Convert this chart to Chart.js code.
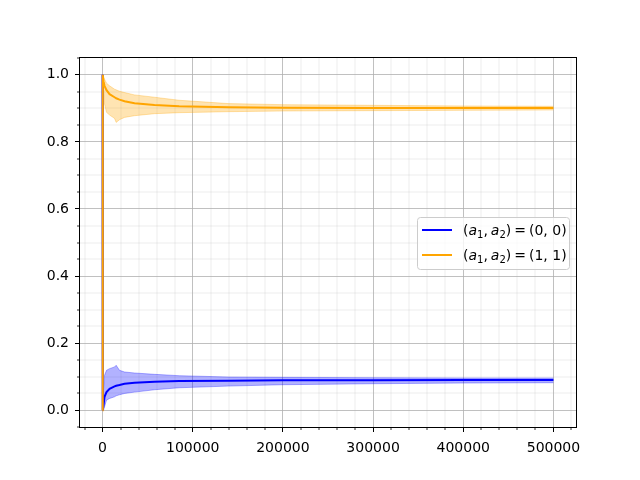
<!DOCTYPE html>
<html>
<head>
    <title>Convergence of action frequencies</title>
    <script src="https://cdn.jsdelivr.net/npm/chart.js@4"></script>
    <style>
        body { margin: 0; background: #fff; }
        #wrap { width: 640px; height: 480px; }
    </style>
</head>
<body>
<div id="wrap"><canvas id="chart" width="640" height="480"></canvas></div>
<script>
// iteration steps (denser near the start)
const steps  = [0, 200, 1100, 2200, 4400, 7800, 13300, 15100, 18800, 24400, 35500, 57600, 85000, 140000, 200000, 300000, 400000, 500000];

// (a1, a2) = (0, 0)
const meanA  = [1.0, 0.0, 0.015, 0.040, 0.054, 0.064, 0.071, 0.073, 0.075, 0.079, 0.082, 0.085, 0.087, 0.088, 0.089, 0.0895, 0.090, 0.090];
const upperA = [1.0, 0.0, 0.060, 0.104, 0.119, 0.124, 0.129, 0.134, 0.119, 0.114, 0.111, 0.107, 0.103, 0.099, 0.098, 0.097, 0.096, 0.096];
const lowerA = [1.0, 0.0, 0.000, 0.010, 0.030, 0.035, 0.040, 0.043, 0.046, 0.050, 0.054, 0.061, 0.067, 0.072, 0.076, 0.079, 0.081, 0.082];

// (a1, a2) = (1, 1)
const meanB  = [0.0, 1.0, 0.980, 0.967, 0.954, 0.942, 0.933, 0.930, 0.926, 0.921, 0.915, 0.910, 0.906, 0.903, 0.902, 0.901, 0.901, 0.901];
const upperB = [0.0, 1.0, 0.995, 0.987, 0.975, 0.967, 0.957, 0.955, 0.951, 0.947, 0.940, 0.933, 0.924, 0.914, 0.911, 0.909, 0.907, 0.906];
const lowerB = [0.0, 1.0, 0.960, 0.913, 0.888, 0.880, 0.870, 0.858, 0.866, 0.873, 0.878, 0.884, 0.887, 0.890, 0.892, 0.893, 0.894, 0.895];

const legendValues = ['(0, 0)', '(1, 1)'];
const seriesColors = ['#0000ff', '#ffa500'];
const bandColors   = ['rgba(0,0,255,0.3)', 'rgba(255,165,0,0.3)'];

const xTickVals = [0, 100000, 200000, 300000, 400000, 500000];
const yTickVals = [0.0, 0.2, 0.4, 0.6, 0.8, 1.0];

const X_MIN = -25000, X_MAX = 525000, Y_MIN = -0.05, Y_MAX = 1.05;
const FONT = 'DejaVu Sans';

function pts(ys) { return steps.map((s, i) => ({ x: s, y: ys[i] })); }

// minor grid + minor ticks, like matplotlib's minorticks_on + grid(which='minor')
const minorGrid = {
    id: 'minorGrid',
    beforeDatasetsDraw(chart) {
        const { ctx, chartArea: a, scales: { x, y } } = chart;
        const xm = [], ym = [];
        for (let v = -20000; v <= X_MAX; v += 20000) if (v % 100000 !== 0) xm.push(v);
        for (let k = -1; k <= 21; k++) if (k % 4 !== 0) ym.push(k * 0.05);
        ctx.save();
        ctx.lineWidth = 0.8;
        ctx.strokeStyle = 'rgba(176,176,176,0.3)';
        ctx.beginPath();
        xm.forEach(v => { const p = Math.round(x.getPixelForValue(v)); ctx.moveTo(p, a.top); ctx.lineTo(p, a.bottom); });
        ym.forEach(v => { const p = Math.round(y.getPixelForValue(v)); if (p <= a.top || p >= a.bottom) return; ctx.moveTo(a.left, p); ctx.lineTo(a.right, p); });
        ctx.stroke();
        ctx.strokeStyle = '#000';
        ctx.beginPath();
        xm.forEach(v => { const p = Math.round(x.getPixelForValue(v)); ctx.moveTo(p, a.bottom); ctx.lineTo(p, a.bottom + 3); });
        ym.forEach(v => { const p = Math.round(y.getPixelForValue(v)); ctx.moveTo(a.left - 3, p); ctx.lineTo(a.left, p); });
        ctx.stroke();
        ctx.restore();
    }
};

function drawMathLabel(ctx, x, base, val) {
    const reg = '14px "' + FONT + '"', ital = 'italic 14px "' + FONT + '"', sub = '10px "' + FONT + '"';
    const parts = [
        ['(', reg, 0, 0], ['a', ital, 0, 0], ['1', sub, 3, 0], [',', reg, 0, 3],
        ['a', ital, 0, 0], ['2', sub, 3, 0], [')', reg, 0, 3], ['=', reg, 0, 3], [val, reg, 0, 0]
    ];
    ctx.fillStyle = '#000';
    ctx.textBaseline = 'alphabetic';
    ctx.textAlign = 'left';
    parts.forEach(([t, f, dy, gap]) => {
        ctx.font = f;
        ctx.fillText(t, x, base + dy);
        x += ctx.measureText(t).width + gap;
    });
}

const legendBox = {
    id: 'legendBox',
    afterDatasetsDraw(chart) {
        const { ctx, chartArea: a } = chart;
        const w = 152, h = 52;
        const bx = a.right - 7 - w, by = Math.round((a.top + a.bottom) / 2 - h / 2);
        ctx.save();
        ctx.beginPath();
        ctx.roundRect(bx + 0.5, by + 0.5, w, h, 3);
        ctx.fillStyle = 'rgba(255,255,255,0.8)';
        ctx.fill();
        ctx.strokeStyle = '#cccccc';
        ctx.lineWidth = 1;
        ctx.stroke();
        legendValues.forEach((val, i) => {
            const ly = by + 13 + i * 25;
            ctx.strokeStyle = seriesColors[i];
            ctx.lineWidth = 2;
            ctx.beginPath();
            ctx.moveTo(bx + 5, ly);
            ctx.lineTo(bx + 35, ly);
            ctx.stroke();
            drawMathLabel(ctx, bx + 46, ly + 4.5, val);
        });
        // axes frame
        ctx.strokeStyle = '#000';
        ctx.lineWidth = 1;
        ctx.strokeRect(a.left - 0.5, a.top - 0.5, a.right - a.left + 1, a.bottom - a.top + 1);
        ctx.restore();
    }
};

const tickFont = { family: FONT, size: 14 };

new Chart(document.getElementById('chart'), {
    type: 'line',
    data: {
        datasets: [
            { label: 'upper (0, 0)', data: pts(upperA), borderColor: bandColors[0], backgroundColor: bandColors[0], borderWidth: 1, fill: '+1', order: 3 },
            { label: 'lower (0, 0)', data: pts(lowerA), borderColor: bandColors[0], borderWidth: 1, fill: false, order: 3 },
            { label: '(a1, a2) = (0, 0)', data: pts(meanA), borderColor: seriesColors[0], borderWidth: 2, fill: false, order: 2 },
            { label: 'upper (1, 1)', data: pts(upperB), borderColor: bandColors[1], backgroundColor: bandColors[1], borderWidth: 1, fill: '+1', order: 1 },
            { label: 'lower (1, 1)', data: pts(lowerB), borderColor: bandColors[1], borderWidth: 1, fill: false, order: 1 },
            { label: '(a1, a2) = (1, 1)', data: pts(meanB), borderColor: seriesColors[1], borderWidth: 2, fill: false, order: 0 }
        ]
    },
    options: {
        responsive: false,
        animation: false,
        events: [],
        elements: { point: { radius: 0 }, line: { tension: 0 } },
        layout: { padding: { top: 58, right: 64, left: 0, bottom: 0 } },
        plugins: { legend: { display: false }, tooltip: { enabled: false } },
        scales: {
            x: {
                type: 'linear', min: X_MIN, max: X_MAX,
                afterBuildTicks: s => { s.ticks = xTickVals.map(v => ({ value: v })); },
                afterFit: s => { s.height = 53; },
                ticks: { callback: v => String(v), font: tickFont, color: '#000', padding: 8, maxRotation: 0, autoSkip: false },
                grid: { color: '#b0b0b0', lineWidth: 0.8, tickColor: '#000', tickLength: 5, tickWidth: 1 },
                border: { display: false }
            },
            y: {
                type: 'linear', min: Y_MIN, max: Y_MAX,
                afterBuildTicks: s => { s.ticks = yTickVals.map(v => ({ value: v })); },
                afterFit: s => { s.width = 80; },
                ticks: { callback: v => v.toFixed(1), font: tickFont, color: '#000', padding: 6, autoSkip: false },
                grid: { color: '#b0b0b0', lineWidth: 0.8, tickColor: '#000', tickLength: 5, tickWidth: 1 },
                border: { display: false }
            }
        }
    },
    plugins: [minorGrid, legendBox]
});
</script>
</body>
</html>
